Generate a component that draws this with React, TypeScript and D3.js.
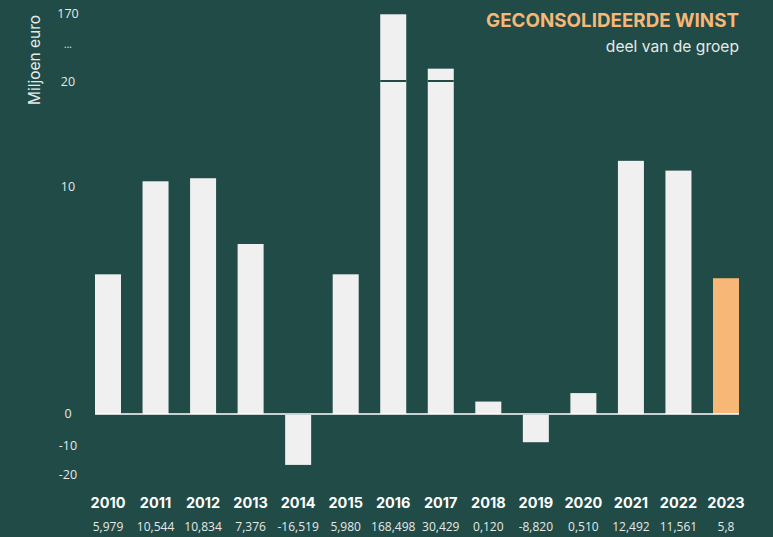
import React from "react";
import * as d3 from "d3";

const years = ["2010","2011","2012","2013","2014","2015","2016","2017","2018","2019","2020","2021","2022","2023"];
const values = [5.979, 10.544, 10.834, 7.376, -16.519, 5.98, 168.498, 30.429, 0.12, -8.82, 0.51, 12.492, 11.561, 5.8];
const valueLabels = ["5,979","10,544","10,834","7,376","-16,519","5,980","168,498","30,429","0,120","-8,820","0,510","12,492","11,561","5,8"];
const tickValues = [170, 20, 10, 0, -10, -20];
const highlightYear = "2023";
const breakValue = 20;

const W = 773, H = 537;
const BG = "#204b47";
const BAR = "#f0f0f0";
const ORANGE = "#f6b777";
const TXT = "#e6e9e8";

// Broken axis: piecewise linear up to the break (with a small stub for tiny values), log above it
const yLow = d3.scaleLinear().domain([-20, -10, 0, 0.1, 10, 20]).range([475, 446, 414, 402, 187, 82]);
const yHigh = d3.scaleLog().domain([20, 170]).range([82, 14]);
const y = (v: number) => (v > breakValue ? yHigh(v) : yLow(v));

const x = d3.scaleBand<string>().domain(years).range([95, 739]).paddingInner(0.453).paddingOuter(0);

export default function App() {
  return (
    <svg width={W} height={H} style={{ position: "absolute", left: 0, top: 0, background: BG }}>
      <rect x={0} y={0} width={W} height={H} fill={BG} />
      {/* title */}
      <text x={739} y={27} textAnchor="end" fill={ORANGE} fontFamily="Inter" fontWeight={700} fontSize={18.8}>GECONSOLIDEERDE WINST</text>
      <text x={739} y={52} textAnchor="end" fill={TXT} fontFamily="Inter" fontSize={15.6}>deel van de groep</text>
      {/* y label */}
      <text transform="translate(40,60) rotate(-90)" textAnchor="middle" fill={TXT} fontFamily="Inter" fontSize={15.5}>Miljoen euro</text>
      {/* ticks */}
      {tickValues.map((t) => (
        <text key={t} x={68} y={y(t)} dy="0.35em" textAnchor="middle" fill={TXT} fontFamily="Open Sans" fontSize={12.5}>{t}</text>
      ))}
      <text x={68} y={48} textAnchor="middle" fill={TXT} fontFamily="Open Sans" fontSize={10}>...</text>
      {/* bars */}
      {years.map((yr, i) => {
        const v = values[i];
        const x0 = x(yr)!;
        const top = v >= 0 ? y(v) : y(0) + 1;
        const bottom = v >= 0 ? y(0) : y(v);
        return (
          <g key={yr}>
            <rect x={x0} y={top} width={x.bandwidth()} height={bottom - top} fill={yr === highlightYear ? ORANGE : BAR} />
            {v > breakValue && (
              <rect x={x0} y={y(breakValue) - 2} width={x.bandwidth()} height={2} fill={BG} />
            )}
          </g>
        );
      })}
      {/* zero line */}
      <line x1={95} x2={739} y1={y(0)} y2={y(0)} stroke="#ffffff" strokeWidth={1.5} />
      {/* labels */}
      {years.map((yr, i) => (
        <g key={"l" + yr}>
          <text x={x(yr)! + x.bandwidth() / 2} y={508} textAnchor="middle" fill="#ffffff" fontFamily="Inter" fontWeight={700} fontSize={14.5}>{yr}</text>
          <text x={x(yr)! + x.bandwidth() / 2} y={531} textAnchor="middle" fill={TXT} fontFamily="Open Sans" fontSize={12}>{valueLabels[i]}</text>
        </g>
      ))}
    </svg>
  );
}
